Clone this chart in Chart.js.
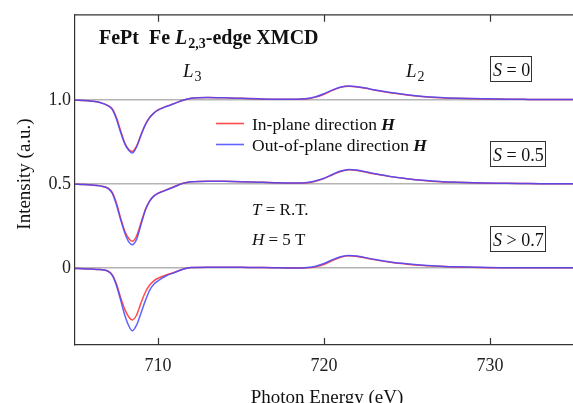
<!DOCTYPE html>
<html>
<head>
<meta charset="utf-8">
<script src="https://cdn.jsdelivr.net/npm/chart.js@4.4.1/dist/chart.umd.min.js"></script>
<style>
    html, body { margin: 0; padding: 0; background: #fff; }
    #wrap { width: 573px; height: 403px; }
</style>
</head>
<body>
<div id="wrap"><canvas id="xmcd" width="573" height="403"></canvas></div>
<script>
// photon energy (eV)
const energy = [705, 705.5, 706, 706.5, 707, 707.25, 707.5, 707.75, 708, 708.25, 708.45, 708.7,
    709, 709.25, 709.5, 709.75, 710, 710.5, 711, 711.5, 712, 713, 714, 715, 716, 717, 718, 719,
    719.5, 720, 720.5, 721, 721.5, 722, 722.5, 723, 724, 725, 726, 727, 728, 729, 730, 731, 732, 733, 734, 735];

// S = 0 (offset 1.0)
const s0InPlane = [1.000, 0.998, 0.994, 0.986, 0.968, 0.948, 0.895, 0.818, 0.745, 0.705, 0.695, 0.725,
    0.800, 0.858, 0.898, 0.924, 0.942, 0.963, 0.981, 1.000, 1.012, 1.016, 1.014, 1.011, 1.008, 1.006, 1.006, 1.009,
    1.018, 1.035, 1.058, 1.076, 1.083, 1.079, 1.071, 1.061, 1.044, 1.031, 1.021, 1.015, 1.011, 1.009, 1.007, 1.006, 1.005, 1.004, 1.004, 1.004];
const s0OutOfPlane = [1.000, 0.998, 0.994, 0.986, 0.966, 0.944, 0.886, 0.808, 0.740, 0.700, 0.685, 0.720,
    0.798, 0.856, 0.896, 0.923, 0.941, 0.962, 0.980, 1.000, 1.012, 1.016, 1.014, 1.011, 1.008, 1.006, 1.006, 1.010,
    1.020, 1.038, 1.060, 1.078, 1.085, 1.080, 1.072, 1.062, 1.045, 1.032, 1.022, 1.016, 1.012, 1.010, 1.008, 1.006, 1.005, 1.004, 1.004, 1.004];

// S = 0.5 (offset 0.5)
const s05InPlane = [0.500, 0.498, 0.495, 0.490, 0.476, 0.450, 0.386, 0.298, 0.220, 0.175, 0.160, 0.190,
    0.278, 0.352, 0.401, 0.431, 0.446, 0.466, 0.486, 0.505, 0.514, 0.518, 0.517, 0.515, 0.512, 0.509, 0.507, 0.509,
    0.518, 0.533, 0.556, 0.576, 0.586, 0.582, 0.572, 0.562, 0.545, 0.532, 0.522, 0.515, 0.511, 0.508, 0.506, 0.505, 0.504, 0.503, 0.503, 0.503];
const s05OutOfPlane = [0.500, 0.498, 0.495, 0.490, 0.474, 0.445, 0.376, 0.288, 0.210, 0.155, 0.140, 0.170,
    0.268, 0.348, 0.399, 0.429, 0.445, 0.465, 0.485, 0.505, 0.514, 0.518, 0.517, 0.515, 0.512, 0.509, 0.507, 0.510,
    0.520, 0.535, 0.558, 0.578, 0.588, 0.584, 0.574, 0.564, 0.546, 0.533, 0.523, 0.516, 0.512, 0.509, 0.507, 0.505, 0.504, 0.503, 0.503, 0.503];

// S > 0.7 (no offset)
const s07InPlane = [-0.002, -0.003, -0.005, -0.008, -0.018, -0.040, -0.094, -0.175, -0.245, -0.292, -0.308, -0.280,
    -0.200, -0.140, -0.100, -0.075, -0.060, -0.040, -0.024, -0.006, 0.004, 0.006, 0.006, 0.005, 0.004, 0.003, 0.001, 0.002,
    0.008, 0.022, 0.045, 0.065, 0.074, 0.070, 0.061, 0.051, 0.035, 0.024, 0.016, 0.011, 0.007, 0.005, 0.003, 0.002, 0.002, 0.002, 0.002, 0.002];
const s07OutOfPlane = [-0.002, -0.003, -0.005, -0.008, -0.019, -0.044, -0.104, -0.190, -0.280, -0.345, -0.372, -0.340,
    -0.260, -0.190, -0.130, -0.095, -0.075, -0.045, -0.026, -0.006, 0.004, 0.006, 0.006, 0.005, 0.004, 0.003, 0.001, 0.004,
    0.012, 0.028, 0.050, 0.068, 0.076, 0.072, 0.063, 0.053, 0.037, 0.026, 0.018, 0.012, 0.008, 0.006, 0.004, 0.003, 0.003, 0.002, 0.002, 0.002];

const xTicks = [710, 720, 730];
const yTickValues = [0, 0.5, 1.0];
const yTickLabels = ['0', '0.5', '1.0'];

const RED = 'rgba(255, 45, 45, 0.85)';
const BLUE = 'rgba(70, 70, 255, 0.85)';
const SERIF = '"Liberation Serif", "DejaVu Serif", serif';

function toPoints(ys) {
    return energy.map((x, i) => ({ x: x, y: ys[i] }));
}

function curve(label, ys, color, order) {
    return {
        label: label,
        data: toPoints(ys),
        borderColor: color,
        borderWidth: 1.5,
        pointRadius: 0,
        fill: false,
        cubicInterpolationMode: 'monotone',
        order: order
    };
}

// draw a run of text pieces with their own fonts, left to right
function drawRuns(ctx, runs, x, y) {
    let cx = x;
    runs.forEach(run => {
        ctx.font = run.font;
        ctx.fillText(run.text, cx, y + (run.dy || 0));
        cx += ctx.measureText(run.text).width + (run.gap || 0);
    });
    return cx;
}

function sLabel(ctx, rest, box) {
    ctx.strokeStyle = '#333';
    ctx.lineWidth = 1;
    ctx.strokeRect(box[0] + 0.5, box[1] + 0.5, box[2], box[3]);
    ctx.fillStyle = '#111';
    drawRuns(ctx, [
        { text: 'S', font: 'italic 18px ' + SERIF },
        { text: rest, font: '18px ' + SERIF }
    ], box[0] + 3, box[1] + 20);
}

const framePlugin = {
    id: 'frame',
    afterDraw(chart) {
        const ctx = chart.ctx;
        const area = chart.chartArea;
        const xs = chart.scales.x;
        ctx.save();

        // top frame line and inward ticks
        ctx.strokeStyle = '#333';
        ctx.lineWidth = 1.2;
        ctx.beginPath();
        ctx.moveTo(area.left, area.top);
        ctx.lineTo(area.right, area.top);
        xTicks.forEach(v => {
            const px = Math.round(xs.getPixelForValue(v)) + 0.5;
            ctx.moveTo(px, area.top);
            ctx.lineTo(px, area.top + 7);
            ctx.moveTo(px, area.bottom);
            ctx.lineTo(px, area.bottom - 7);
        });
        ctx.stroke();

        ctx.fillStyle = '#111';
        ctx.textBaseline = 'alphabetic';
        ctx.textAlign = 'left';

        // title
        drawRuns(ctx, [
            { text: 'FePt  Fe ', font: 'bold 20px ' + SERIF },
            { text: 'L', font: 'italic bold 20px ' + SERIF, gap: 1 },
            { text: '2,3', font: 'bold 14px ' + SERIF, dy: 4 },
            { text: '-edge XMCD', font: 'bold 20px ' + SERIF }
        ], 99, 44);

        // edge labels
        drawRuns(ctx, [
            { text: 'L', font: 'italic 19px ' + SERIF, gap: 1 },
            { text: '3', font: '14px ' + SERIF, dy: 4 }
        ], 183, 77);
        drawRuns(ctx, [
            { text: 'L', font: 'italic 19px ' + SERIF, gap: 1 },
            { text: '2', font: '14px ' + SERIF, dy: 4 }
        ], 406, 77);

        // legend
        ctx.lineWidth = 1.6;
        ctx.strokeStyle = RED;
        ctx.beginPath(); ctx.moveTo(216, 123.5); ctx.lineTo(244, 123.5); ctx.stroke();
        ctx.strokeStyle = BLUE;
        ctx.beginPath(); ctx.moveTo(216, 144.5); ctx.lineTo(244, 144.5); ctx.stroke();
        drawRuns(ctx, [
            { text: 'In-plane direction ', font: '17.5px ' + SERIF },
            { text: 'H', font: 'italic bold 17.5px ' + SERIF }
        ], 252, 130);
        drawRuns(ctx, [
            { text: 'Out-of-plane direction ', font: '17.5px ' + SERIF },
            { text: 'H', font: 'italic bold 17.5px ' + SERIF }
        ], 252, 151);

        // conditions
        drawRuns(ctx, [
            { text: 'T', font: 'italic 17px ' + SERIF },
            { text: ' = R.T.', font: '17px ' + SERIF }
        ], 252, 215);
        drawRuns(ctx, [
            { text: 'H', font: 'italic 17px ' + SERIF },
            { text: ' = 5 T', font: '17px ' + SERIF }
        ], 252, 245);

        // order parameter boxes
        sLabel(ctx, ' = 0', [490, 56, 41, 25]);
        sLabel(ctx, ' = 0.5', [490, 141, 55, 25]);
        sLabel(ctx, ' > 0.7', [490, 226, 55, 25]);

        // axis titles
        ctx.fillStyle = '#111';
        ctx.font = '19px ' + SERIF;
        ctx.textAlign = 'center';
        ctx.fillText('Photon Energy (eV)', 327, 403);
        ctx.translate(30, 174);
        ctx.rotate(-Math.PI / 2);
        ctx.fillText('Intensity (a.u.)', 0, 0);
        ctx.restore();
    }
};

new Chart(document.getElementById('xmcd'), {
    type: 'line',
    data: {
        datasets: [
            curve('In-plane direction H (S = 0)', s0InPlane, RED, 1),
            curve('Out-of-plane direction H (S = 0)', s0OutOfPlane, BLUE, 0),
            curve('In-plane direction H (S = 0.5)', s05InPlane, RED, 1),
            curve('Out-of-plane direction H (S = 0.5)', s05OutOfPlane, BLUE, 0),
            curve('In-plane direction H (S > 0.7)', s07InPlane, RED, 1),
            curve('Out-of-plane direction H (S > 0.7)', s07OutOfPlane, BLUE, 0)
        ]
    },
    options: {
        responsive: false,
        animation: false,
        layout: { padding: { top: 10, right: 0, left: 0, bottom: 0 } },
        plugins: {
            legend: { display: false },
            tooltip: { enabled: false }
        },
        scales: {
            x: {
                type: 'linear',
                min: 705,
                max: 735,
                afterBuildTicks: scale => { scale.ticks = xTicks.map(v => ({ value: v })); },
                afterFit: scale => { scale.height = 58; },
                grid: { display: false },
                border: { display: true, color: '#333', width: 1.2 },
                ticks: {
                    font: { family: SERIF, size: 18 },
                    color: '#222',
                    padding: 2,
                    maxRotation: 0,
                    callback: v => String(v)
                }
            },
            y: {
                type: 'linear',
                min: -0.457,
                max: 1.508,
                afterBuildTicks: scale => { scale.ticks = yTickValues.map(v => ({ value: v })); },
                afterFit: scale => { scale.width = 75; },
                grid: { color: '#b4b4b4', lineWidth: 1.5, drawTicks: false },
                border: { display: true, color: '#333', width: 1.2 },
                ticks: {
                    font: { family: SERIF, size: 18 },
                    color: '#222',
                    padding: 4,
                    callback: v => yTickLabels[yTickValues.indexOf(v)]
                }
            }
        }
    },
    plugins: [framePlugin]
});
</script>
</body>
</html>
